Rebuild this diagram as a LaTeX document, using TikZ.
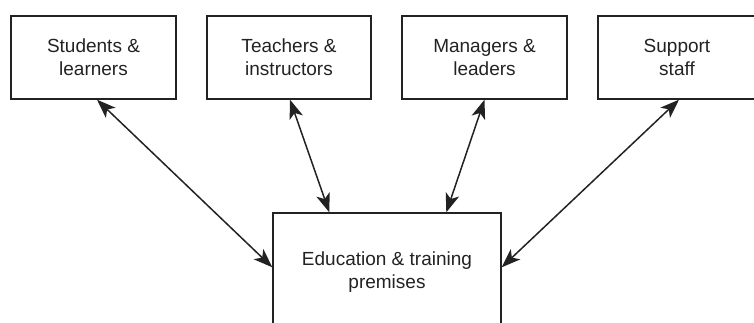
\documentclass[tikz,border=0pt]{standalone}
\usepackage{fontspec}
\setmainfont{Liberation Sans}
\usetikzlibrary{arrows.meta,calc}
\definecolor{ink}{HTML}{222222}
\begin{document}
\begin{tikzpicture}[x=1pt,y=-1pt,>={Stealth[length=19pt,width=14pt,inset=5pt]},
  box/.style={draw=ink,line width=1.4pt,minimum height=83pt,inner sep=0pt,
    align=center,text=ink,font=\fontsize{19}{23}\selectfont},
  link/.style={draw=ink,line width=1.5pt,<->},
  lbl/.style={align=center,text=ink,inner sep=0pt,font=\fontsize{19}{22.5}\selectfont}]
\useasboundingbox (0,0) rectangle (754,322);
\clip (0,0) rectangle (754,322);
\node[box,minimum width=165pt] (s) at (93.5,57.5) {Students \&\\learners};
\node[box,minimum width=164pt] (t) at (289,57.5) {Teachers \&\\instructors};
\node[box,minimum width=165pt] (m) at (484.5,57.5) {Managers \&\\leaders};
\node[box,minimum width=158pt] (p) at (677,57.5) {Support\\staff};
\node[box,minimum width=228pt,minimum height=150pt] (e) at (387,288) {};
\node[lbl] (et) at (387,272) {Education \& training\\premises};
\draw[link] ([xshift=3.5pt]s.south) -- ([yshift=-55pt]e.north west);
\draw[link] ([xshift=1pt]t.south) -- ([xshift=57pt]e.north west);
\draw[link] (m.south) -- ([xshift=174pt]e.north west);
\draw[link] ([xshift=2pt]p.south) -- ([yshift=-55pt]e.north east);
\end{tikzpicture}
\end{document}
